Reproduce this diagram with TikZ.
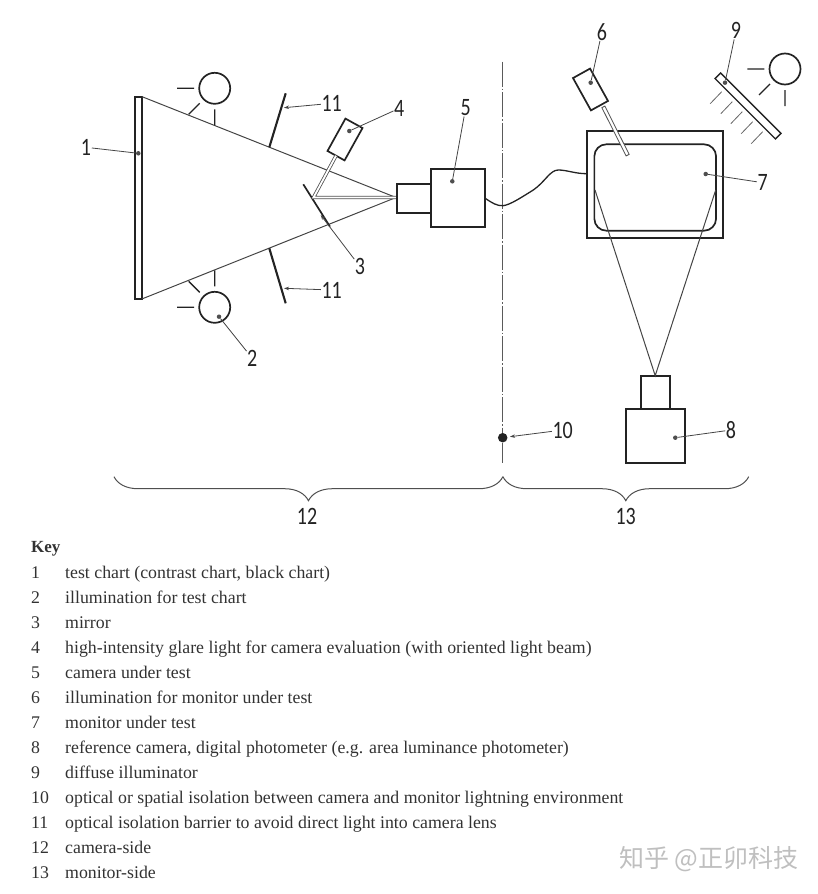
\documentclass[tikz,border=0pt]{standalone}
\usepackage{fontspec}
\setmainfont{Liberation Serif}
\newfontfamily\figfont[FakeStretch=0.8]{Carlito}
\newfontfamily\cjk{Noto Sans CJK SC}
\usetikzlibrary{arrows.meta,positioning,decorations.pathreplacing}
\definecolor{ink}{RGB}{35,35,35}
\definecolor{keytext}{RGB}{50,50,50}
\tikzset{
  >={Stealth[length=5pt,width=3.5pt]},
  outline/.style={draw=ink,line width=1.7pt,inner sep=0pt,outer sep=0pt,fill=white},
  ray/.style={draw=ink!85,line width=1pt},
  barrier/.style={draw=ink,line width=2.1pt},
  leader/.style={draw=ink!85,line width=0.8pt},
  beam/.style={draw=ink!80,double=white,double distance=1.8pt,line width=0.8pt},
  num/.style={font=\figfont\fontsize{25}{25}\selectfont,text=ink,inner sep=0.5pt},
  dotmark/.style={circle,fill=ink!80,inner sep=0pt,minimum size=4.5pt},
  keyline/.style={anchor=base west,inner sep=0pt,text=keytext,font=\fontsize{17.8}{20}\selectfont},
  hatch/.style={draw=ink!70,line width=0.8pt},
  sidebrace/.style={draw=ink!80,line width=1pt,decorate,decoration={brace,mirror,amplitude=24pt}},
  % lamp with its three rays
  pics/lamp/.style={code={
    \draw[ink,line width=1.7pt] (0,0) circle (15.5);
    \draw[ink,line width=1.3pt] (-37.7,0) -- (-20.7,0) (-26,26) -- (-15,15) (0,21) -- (0,37);
  }},
}
\begin{document}
\begin{tikzpicture}[x=1pt,y=-1pt]
  \useasboundingbox (0,0) rectangle (818,894);
  % camera side
  \node[outline,minimum width=7.3pt,minimum height=202.3pt] (chart) at (138.3,197.8) {};
  \coordinate (apex) at (396,197.5);
  \draw[ray] (chart.north east) -- (apex) (chart.south east) -- (apex);
  \pic at (214.7,88.3) {lamp};
  \pic[yscale=-1] at (214.7,307.3) {lamp};
  \coordinate (bartopa) at (285.7,93.3);
  \coordinate (bartopb) at (269.3,147.3);
  \coordinate (barbota) at (269.3,248.3);
  \coordinate (barbotb) at (285.7,303.3);
  \coordinate (mirrora) at (303.3,184.3);
  \coordinate (mirrorb) at (330,226.7);
  \draw[barrier] (bartopa) -- (bartopb) (barbota) -- (barbotb);
  \draw[barrier,line width=1.7pt] (mirrora) -- (mirrorb);
  \coordinate (bend) at (313.5,197.5);
  \node[outline,minimum width=19.5pt,minimum height=37pt,rotate=-29] (glare) at (345,139.5) {};
  \draw[beam] (glare.south) -- (bend) -- (apex);
  \node[outline,minimum width=33.4pt,minimum height=28.7pt] (lens) at (414,198.4) {};
  \node[outline,minimum width=54.6pt,minimum height=58.6pt] (camera) at (458,198) {};
  % isolation line
  \node[circle,fill=ink,inner sep=0pt,minimum size=9.5pt] (wall) at (502.7,437.7) {};
  \coordinate (walltop) at (502.7,61.7);
  \coordinate (wallend) at (502.7,463.3);
  \draw[draw=ink!75,line width=1pt,dash pattern=on 25pt off 2pt on 1.5pt off 2pt] (walltop) -- (wall);
  \draw[draw=ink!75,line width=1pt] (wall) -- (wallend);
  % monitor side
  \node[outline,minimum width=136.6pt,minimum height=107.6pt] (monitor) at (655,184.5) {};
  \node[outline,rounded corners=12pt,minimum width=121.7pt,minimum height=86.4pt] (screen) at (655.2,187.5) {};
  \node[outline,minimum width=29pt,minimum height=33.3pt] (reflens) at (655.2,392.3) {};
  \node[outline,minimum width=59pt,minimum height=54pt] (refcam) at (655.2,436) {};
  \coordinate (viewa) at (595,190);
  \coordinate (viewb) at (715.7,190);
  \draw[ray] (viewa) -- (reflens.north) -- (viewb);
  \draw[ink,line width=1.3pt] (camera.east |- 0,198.3) .. controls (492,203) and (497,206) .. (503,205.7)
    .. controls (510,205) and (522,197) .. (533.3,190) .. controls (545,182) and (550,170) .. (558.3,170)
    .. controls (567,170) and (575,173.7) .. (monitor.west |- 0,173.7);
  \node[draw=ink!80,fill=white,line width=0.8pt,inner sep=0pt,minimum width=54pt,minimum height=3.4pt,rotate=-63.3] (ray6) at (615.5,131) {};
  \node[outline,minimum width=19.5pt,minimum height=37pt,rotate=29] (spot) at (590.5,89.5) {};
  \node[outline,line width=1.4pt,minimum width=85.5pt,minimum height=7.8pt,rotate=-45] (diffuser) at (748,106) {};
  \pic at (785,69) {lamp};
  \foreach \x/\y in {721.7/91.7,732.3/101.7,742.3/111.7,752.7/121.7,762.7/131.7}
    \draw[hatch] (\x,\y) -- ++(-11.5,12);
  % numbers with a dot at the end of the leader
  \foreach \k/\t/\lx/\ly/\dx/\dy in {a/1/86/147.3/138.3/153.3,b/2/252.3/358.3/219/316.7,c/4/399.3/108.3/349.3/131,d/5/465.7/107.7/452.3/181.3,e/6/602/31.7/590.7/82.7,f/7/762.7/182.7/705.7/174,g/8/731/430/675.3/437.7,h/9/736/30.7/725/82.7}{
    \node[num] (lab\k) at (\lx,\ly) {\t};
    \node[dotmark] (dot\k) at (\dx,\dy) {};
    \draw[leader] (lab\k) -- (dot\k);
  }
  % numbers with an arrow
  \foreach \k/\t/\lx/\ly/\dx/\dy in {i/3/360/266.7/320.7/215,j/10/562.7/430/510/436.7,k/11/331.7/103.3/284/107.7,l/11/331.7/290/284/288.3}{
    \node[num] (lab\k) at (\lx,\ly) {\t};
    \coordinate (tip\k) at (\dx,\dy);
    \draw[leader,->] (lab\k) -- (tip\k);
  }
  % braces
  \coordinate (bracea) at (114,476.7);
  \coordinate (braceb) at (502.9,476.7);
  \coordinate (bracec) at (748.7,476.7);
  \draw[sidebrace] (bracea) -- (braceb);
  \draw[sidebrace] (braceb) -- (bracec);
  \node[num] (side12) at (307,516) {12};
  \node[num] (side13) at (625.7,516) {13};
  % key
  \node[keyline,font=\fontsize{17}{20}\selectfont\bfseries] (key) at (31,552.7) {Key};
  \foreach \t [count=\i] in {test chart (contrast chart{,} black chart),illumination for test chart,mirror,high-intensity glare light for camera evaluation (with oriented light beam),camera under test,illumination for monitor under test,monitor under test,{reference camera, digital photometer (e.g. area luminance photometer)},diffuse illuminator,optical or spatial isolation between camera and monitor lightning environment,optical isolation barrier to avoid direct light into camera lens,camera-side,monitor-side}{
    \node[keyline] (keyn\i) at (31,{553+25*\i}) {\i};
    \node[keyline] (keyt\i) at (65,{553+25*\i}) {\t};
  }
  \node[text=black!25,font=\cjk\fontsize{25}{25}\selectfont,inner sep=0pt] (mark) at (709,859) {知乎 @正卯科技};
\end{tikzpicture}
\end{document}
